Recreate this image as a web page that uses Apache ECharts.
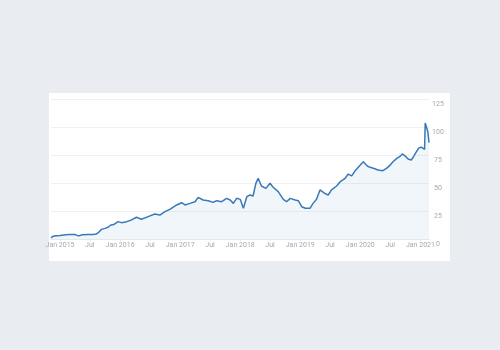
<!DOCTYPE html>
<html>
<head>
<meta charset="utf-8">
<script src="https://cdn.jsdelivr.net/npm/echarts@6/dist/echarts.min.js"></script>
<style>
  html, body { margin: 0; padding: 0; background: #e9ecf1; }
  #chart { width: 500px; height: 350px; }
</style>
</head>
<body>
<div id="chart"></div>
<script>
var dates = [
  '2014-11-07','2014-11-20','2014-12-10','2015-01-01','2015-02-06','2015-03-02','2015-04-01','2015-04-15',
  '2015-05-01','2015-05-15','2015-06-20','2015-07-20','2015-08-10','2015-08-24','2015-09-10','2015-10-01',
  '2015-10-20','2015-11-06','2015-11-25','2015-12-20','2016-01-10','2016-02-10','2016-03-10','2016-04-10',
  '2016-05-10','2016-06-20','2016-07-30','2016-08-30','2016-09-30','2016-10-30','2016-12-10','2017-01-10',
  '2017-01-30','2017-03-01','2017-04-01','2017-04-20','2017-05-20','2017-06-20','2017-07-20','2017-08-10',
  '2017-09-10','2017-10-10','2017-11-01','2017-11-20','2017-12-10','2018-01-01','2018-01-20','2018-02-10',
  '2018-03-01','2018-03-20','2018-04-06','2018-04-20','2018-05-10','2018-06-06','2018-07-01','2018-07-20',
  '2018-08-20','2018-09-20','2018-10-10','2018-11-01','2018-12-01','2018-12-20','2019-01-10','2019-02-01',
  '2019-03-01','2019-03-20','2019-04-10','2019-05-01','2019-05-30','2019-06-20','2019-07-10','2019-08-10',
  '2019-09-01','2019-10-01','2019-10-20','2019-11-10','2019-12-01','2020-01-01','2020-01-20','2020-02-01',
  '2020-02-15','2020-03-01','2020-03-25','2020-04-18','2020-05-18','2020-06-12','2020-07-01','2020-07-18',
  '2020-08-10','2020-09-01','2020-09-12','2020-10-01','2020-10-18','2020-11-06','2020-11-18','2020-12-01',
  '2020-12-20','2021-01-06','2021-01-18','2021-01-26','2021-01-30','2021-02-03','2021-02-08','2021-02-15',
  '2021-02-22'
];
var prices = [
  1, 2.5, 3, 3.2, 3.8, 4, 4, 3.2,
  3, 3.8, 4, 4, 4.5, 6, 8.6, 9.5,
  10.5, 12.5, 13, 15.5, 14.6, 15.5, 17, 19.4,
  17.6, 20, 22.3, 21.4, 24.4, 26.5, 30.4, 32.4,
  30.4, 31.8, 33.3, 37.2, 34.8, 34.2, 32.7, 34.2,
  33.3, 36.3, 34.8, 31.8, 36.3, 35.4, 27.4, 37.8,
  39.3, 38.4, 49.7, 54.2, 47.3, 45.2, 49.7, 46.2,
  42.3, 35.4, 33.3, 36.3, 34.8, 34.2, 28.8, 27.4,
  27.4, 31.8, 35.4, 43.8, 40.8, 39.3, 43.8, 47.3,
  51.2, 54.2, 58, 56.3, 61, 66, 69, 67,
  65, 64, 63, 61.6, 61, 63.5, 66, 69,
  72, 74, 76, 74, 71.5, 70.5, 73, 76.5,
  81, 82, 82.5, 80, 103.5, 104.5, 101.8, 95.8,
  86
];
var tickDates = [
  '2015-01-01','2015-07-01','2016-01-01','2016-07-01','2017-01-01','2017-07-01','2018-01-01',
  '2018-07-01','2019-01-01','2019-07-01','2020-01-01','2020-07-01','2021-01-01'
];
var tickLabels = [
  'Jan 2015','Jul','Jan 2016','Jul','Jan 2017','Jul','Jan 2018',
  'Jul','Jan 2019','Jul','Jan 2020','Jul','Jan 2021'
];

function toTime(s) {
  var p = s.split('-');
  return Date.UTC(+p[0], +p[1] - 1, +p[2]);
}
var tickValues = tickDates.map(toTime);
var times = dates.map(toTime);
var seriesData = times.map(function (t, i) { return [t, prices[i]]; });

var myChart = echarts.init(document.getElementById('chart'));
var option = {
  backgroundColor: '#e9ecf1',
  animation: false,
  graphic: [{
    type: 'rect',
    z: -10,
    silent: true,
    shape: { x: 49, y: 93, width: 401, height: 168 },
    style: { fill: '#ffffff' }
  }],
  grid: { left: 51, right: 71, top: 99, bottom: 111 },
  xAxis: {
    type: 'value',
    min: times[0],
    max: times[times.length - 1],
    axisLine: { show: true, onZero: false, lineStyle: { color: '#e4e6ea' } },
    axisTick: { show: true, length: 2, customValues: tickValues, lineStyle: { color: '#e4e6ea' } },
    splitLine: { show: false },
    axisLabel: {
      customValues: tickValues,
      margin: 3,
      fontSize: 7,
      color: '#a3a8b0',
      fontFamily: 'Roboto',
      formatter: function (val) {
        var i = tickValues.indexOf(val);
        return i >= 0 ? tickLabels[i] : '';
      }
    }
  },
  yAxis: {
    type: 'value',
    position: 'right',
    min: 0,
    max: 125,
    interval: 25,
    axisLine: { show: false },
    axisTick: { show: false },
    splitLine: { lineStyle: { color: '#eef0f3', width: 1 } },
    axisLabel: {
      margin: 9,
      align: 'center',
      verticalAlign: 'top',
      padding: [2, 0, 0, 0],
      fontSize: 7,
      color: '#a3a8b0',
      fontFamily: 'Roboto'
    }
  },
  series: [{
    type: 'line',
    data: seriesData,
    showSymbol: false,
    lineStyle: { color: '#3a79b8', width: 1.5 },
    areaStyle: { color: 'rgba(58,121,184,0.1)' }
  }]
};
myChart.setOption(option);
</script>
</body>
</html>
